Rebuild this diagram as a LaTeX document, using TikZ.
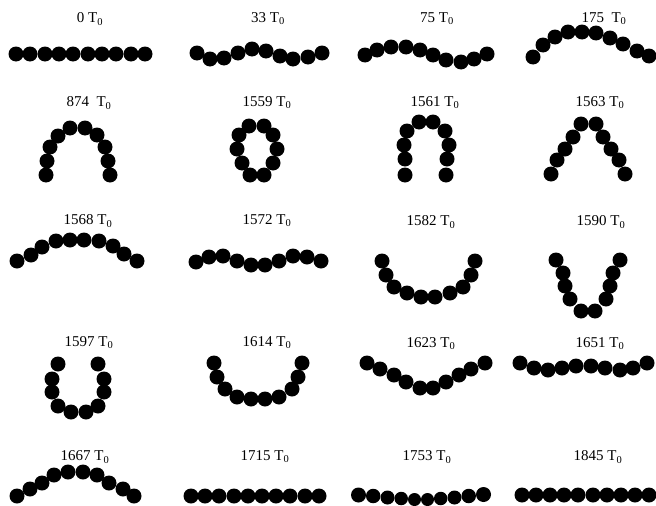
\documentclass[tikz,border=0pt]{standalone}
\usepackage{fontspec}
\setmainfont{Liberation Serif}
\usetikzlibrary{positioning}

\tikzset{
  bead/.style={circle, fill=black, inner sep=0pt, minimum size=15pt},
  stamp/.style={font=\fontsize{15}{18}\selectfont, inner sep=0pt}
}

\begin{document}
\begin{tikzpicture}[x=1pt, y=-1pt]
  \useasboundingbox (0,0) rectangle (656,506);

  % row 1
  \node[stamp] (t0) at (90,19) {0 T\textsubscript{0}};
  \foreach \x/\y [count=\i] in {16/54,30/54,45/54,59/54,73/54,88/54,102/54,116/54,131/54,145/54}
    \node[bead] (a\i) at (\x,\y) {};
  \node[stamp] (t33) at (268,19) {33 T\textsubscript{0}};
  \foreach \x/\y [count=\i] in {197/53,210/59,224/58,238/53,252/49,266/51,280/56,293/59,308/57,322/53}
    \node[bead] (b\i) at (\x,\y) {};
  \node[stamp] (t75) at (437,19) {75 T\textsubscript{0}};
  \foreach \x/\y [count=\i] in {365/55,377/50,391/47,406/47,420/50,433/55,446/60,461/62,474/59,487/54}
    \node[bead] (c\i) at (\x,\y) {};
  \node[stamp] (t175) at (604,19) {175\ \ T\textsubscript{0}};
  \foreach \x/\y [count=\i] in {533/57,543/45,555/37,568/32,582/32,596/33,610/38,623/44,637/51,649/56}
    \node[bead] (d\i) at (\x,\y) {};

  % row 2
  \node[stamp] (t874) at (89,103) {874\ \ T\textsubscript{0}};
  \foreach \x/\y [count=\i] in {46/175,47/161,50/147,58/136,70/128,85/128,97/135,105/147,108/161,110/175}
    \node[bead] (e\i) at (\x,\y) {};
  \node[stamp] (t1559) at (267,103) {1559 T\textsubscript{0}};
  \foreach \x/\y [count=\i] in {250/175,242/163,237/149,239/135,249/126,264/126,273/135,277/149,273/163,264/175}
    \node[bead] (f\i) at (\x,\y) {};
  \node[stamp] (t1561) at (435,103) {1561 T\textsubscript{0}};
  \foreach \x/\y [count=\i] in {405/175,405/159,404/145,407/131,419/122,433/122,445/131,449/145,447/159,446/175}
    \node[bead] (g\i) at (\x,\y) {};
  \node[stamp] (t1563) at (600,103) {1563 T\textsubscript{0}};
  \foreach \x/\y [count=\i] in {551/174,557/160,565/149,573/137,581/124,596/124,603/137,611/149,619/160,625/174}
    \node[bead] (h\i) at (\x,\y) {};

  % row 3
  \node[stamp] (t1568) at (88,221) {1568 T\textsubscript{0}};
  \foreach \x/\y [count=\i] in {17/261,31/255,42/247,56/241,70/240,84/240,99/241,113/246,124/254,137/261}
    \node[bead] (i\i) at (\x,\y) {};
  \node[stamp] (t1572) at (267,221) {1572 T\textsubscript{0}};
  \foreach \x/\y [count=\i] in {196/262,209/257,223/256,237/261,251/265,265/265,279/261,293/256,307/257,321/261}
    \node[bead] (j\i) at (\x,\y) {};
  \node[stamp] (t1582) at (431,222) {1582 T\textsubscript{0}};
  \foreach \x/\y [count=\i] in {382/261,386/275,394/287,407/293,421/297,435/297,450/293,463/287,471/275,475/261}
    \node[bead] (k\i) at (\x,\y) {};
  \node[stamp] (t1590) at (601,222) {1590 T\textsubscript{0}};
  \foreach \x/\y [count=\i] in {556/260,563/273,565/286,570/299,581/311,595/311,606/299,610/286,613/273,620/260}
    \node[bead] (l\i) at (\x,\y) {};

  % row 4
  \node[stamp] (t1597) at (89,343) {1597 T\textsubscript{0}};
  \foreach \x/\y [count=\i] in {58/364,52/379,52/392,58/406,71/412,86/412,98/406,104/392,104/379,98/364}
    \node[bead] (m\i) at (\x,\y) {};
  \node[stamp] (t1614) at (267,343) {1614 T\textsubscript{0}};
  \foreach \x/\y [count=\i] in {214/363,217/377,225/389,237/397,251/399,265/399,279/397,292/389,298/377,302/363}
    \node[bead] (n\i) at (\x,\y) {};
  \node[stamp] (t1623) at (431,344) {1623 T\textsubscript{0}};
  \foreach \x/\y [count=\i] in {367/363,380/369,394/375,406/382,420/388,433/388,446/382,459/375,471/369,485/363}
    \node[bead] (o\i) at (\x,\y) {};
  \node[stamp] (t1651) at (600,344) {1651 T\textsubscript{0}};
  \foreach \x/\y [count=\i] in {520/363,534/368,548/370,562/368,576/366,591/366,605/368,620/370,633/368,647/363}
    \node[bead] (p\i) at (\x,\y) {};

  % row 5
  \node[stamp] (t1667) at (85,457) {1667 T\textsubscript{0}};
  \foreach \x/\y [count=\i] in {17/496,30/489,42/483,54/475,68/472,83/472,97/475,109/483,123/489,134/496}
    \node[bead] (q\i) at (\x,\y) {};
  \node[stamp] (t1715) at (265,457) {1715 T\textsubscript{0}};
  \foreach \x/\y [count=\i] in {191/496,205/496,219/496,234/496,248/496,262/496,276/496,290/496,305/496,319/496}
    \node[bead] (r\i) at (\x,\y) {};
  % beads shrink toward the middle here
  \node[stamp] (t1753) at (427,457) {1753 T\textsubscript{0}};
  \foreach \x/\y/\d [count=\i] in {358.5/495/15,373.2/496/14.5,387.5/497.5/14,401.2/498.5/13.5,414.5/499.5/13,
                                   427.5/499.5/13,440.7/498.5/13.5,454.5/497.5/14,468.7/496/14.5,483.5/494.5/15}
    \node[bead, minimum size=\d pt] (s\i) at (\x,\y) {};
  \node[stamp] (t1845) at (598,457) {1845 T\textsubscript{0}};
  \foreach \x/\y [count=\i] in {522/495,536/495,550/495,564/495,578/495,593/495,607/495,621/495,635/495,649/495}
    \node[bead] (u\i) at (\x,\y) {};
\end{tikzpicture}
\end{document}
